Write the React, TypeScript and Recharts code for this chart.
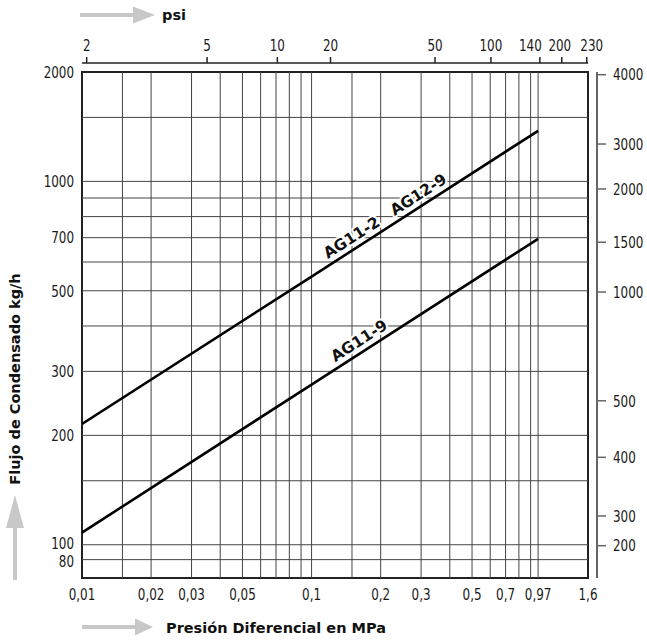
import { LineChart, Line, XAxis, YAxis, ReferenceLine, ReferenceArea, ReferenceDot } from 'recharts';

// caudal de condensado vs presión diferencial (escala log-log)
const pressure = [0.01, 0.1, 0.97];
const flowAG112 = [215, 547, 1378];
const flowAG119 = [108, 276, 695];

const mpaTicks = [0.01, 0.02, 0.03, 0.05, 0.1, 0.2, 0.3, 0.5, 0.7, 0.97, 1.6];
const mpaLabels = ['0,01', '0,02', '0,03', '0,05', '0,1', '0,2', '0,3', '0,5', '0,7', '0,97', '1,6'];
const mpaGrid = [0.015, 0.02, 0.03, 0.04, 0.05, 0.06, 0.07, 0.08, 0.09, 0.1, 0.15, 0.2, 0.3, 0.4, 0.5, 0.6, 0.7, 0.8, 0.9, 0.97];

const kgTicks = [2000, 1000, 700, 500, 300, 200, 100, 91];
const kgLabels = ['2000', '1000', '700', '500', '300', '200', '100', '80'];
const kgGrid = [1500, 1000, 900, 800, 700, 600, 500, 400, 300, 200, 150, 100, 91];

// psi scale as drawn on the sheet (positions in MPa)
const psiTicks = [0.01048, 0.03506, 0.07094, 0.1209, 0.3449, 0.6043, 0.987, 1.23, 1.58];
const psiLabels = ['2', '5', '10', '20', '50', '100', '140', '200', '230'];

// lb/h scale as drawn (positions in kg/h)
const lbTicks = [1966, 1267, 953, 680, 496, 249, 174, 120, 99.4];
const lbLabels = ['4000', '3000', '2000', '1500', '1000', '500', '400', '300', '200'];

const seriesTags = [
  { text: 'AG11-2', at: 0.1214, key: 'ag112' },
  { text: 'AG12-9', at: 0.2372, key: 'ag112' },
  { text: 'AG11-9', at: 0.1309, key: 'ag119' },
];

const data = pressure.map((p, i) => ({ p, ag112: flowAG112[i], ag119: flowAG119[i] }));

const xDomain = [0.01, 1.6];
const yDomain = [81, 2000];

const tickFont = "'DejaVu Sans Condensed', 'DejaVu Sans', sans-serif";
const titleFont = "'DejaVu Sans', sans-serif";
const gridColor = '#444';
const arrowColor = '#c8c8c8';

// label nudges so crowded labels don't collide (layout only)
const psiNudgeX = [0, 0, 0, 0, 0, 0, -9.5, -2, 5];
const kgNudgeY = [0, 0, 0, 0, 0, 0, -2, 2];

function onLine(values: number[], x: number) {
  for (let i = 0; i < pressure.length - 1; i++) {
    if (x <= pressure[i + 1]) {
      const t = (Math.log(x) - Math.log(pressure[i])) / (Math.log(pressure[i + 1]) - Math.log(pressure[i]));
      return Math.exp(Math.log(values[i]) + t * (Math.log(values[i + 1]) - Math.log(values[i])));
    }
  }
  return values[values.length - 1];
}

// narrow, tall digits like the original sheet
const makeTick =
  (labels: string[], side: 'bottom' | 'top' | 'left' | 'right', nudgeX?: number[], nudgeY?: number[]) =>
  (props: any) => {
    const { x, y, index } = props;
    const anchor = side === 'left' ? 'end' : side === 'right' ? 'start' : 'middle';
    const dy = side === 'bottom' ? '0.71em' : side === 'top' ? 0 : '0.36em';
    const nx = nudgeX ? nudgeX[index] || 0 : 0;
    const ny = nudgeY ? nudgeY[index] || 0 : 0;
    return (
      <g transform={`translate(${x + nx},${y + ny}) scale(0.83,1)`}>
        <text x={0} y={0} dy={dy} textAnchor={anchor} fontFamily={tickFont} fontSize={16} fill="#1a1a1a">
          {labels[index]}
        </text>
      </g>
    );
  };

const tagShape = (text: string) => (props: any) => {
  const { cx, cy } = props;
  return (
    <text
      x={cx}
      y={cy}
      dy={-6}
      transform={`rotate(-32.6 ${cx} ${cy})`}
      fontFamily={titleFont}
      fontWeight="bold"
      fontSize={15.5}
      fill="#111"
      stroke="#fff"
      strokeWidth={4}
      strokeLinejoin="round"
      paintOrder="stroke"
    >
      {text}
    </text>
  );
};

function Overlay() {
  return (
    <svg width={647} height={644} style={{ position: 'absolute', left: 0, top: 0, pointerEvents: 'none' }}>
      {/* psi */}
      <rect x={80} y={13} width={54} height={4} fill={arrowColor} />
      <polygon points="133,6.5 155,15 133,23.5" fill={arrowColor} />
      <text x={162} y={20} fontFamily={titleFont} fontWeight="bold" fontSize={14.5} fill="#111">psi</text>

      {/* eje vertical */}
      <rect x={13} y={527} width={4} height={53} fill={arrowColor} />
      <polygon points="6,528 15,495 24,528" fill={arrowColor} />
      <text
        x={20}
        y={379}
        transform="rotate(-90 20 379)"
        textAnchor="middle"
        fontFamily={titleFont}
        fontWeight="bold"
        fontSize={14.5}
        fill="#111"
      >
        Flujo de Condensado kg/h
      </text>

      {/* eje horizontal */}
      <rect x={82} y={625} width={54} height={4} fill={arrowColor} />
      <polygon points="135,618.5 153,627 135,635.5" fill={arrowColor} />
      <text x={166} y={633} fontFamily={titleFont} fontWeight="bold" fontSize={14.5} fill="#111">
        Presión Diferencial en MPa
      </text>
    </svg>
  );
}

export default function App() {
  return (
    <div style={{ position: 'absolute', left: 0, top: 0, width: 647, height: 644, background: '#fff' }}>
      <LineChart width={647} height={644} data={data} margin={{ top: 28, right: 0, bottom: 36, left: 12 }}>
        <XAxis
          dataKey="p"
          type="number"
          scale="log"
          domain={xDomain}
          allowDataOverflow
          ticks={mpaTicks}
          interval={0}
          height={30}
          axisLine={false}
          tickLine={false}
          tickSize={0}
          tickMargin={11}
          tick={makeTick(mpaLabels, 'bottom')}
        />
        <XAxis xAxisId="gapTop" dataKey="p" orientation="top" type="number" scale="log" domain={xDomain} allowDataOverflow height={9} tick={false} axisLine={false} tickLine={false} />
        <XAxis
          xAxisId="psi"
          dataKey="p"
          orientation="top"
          type="number"
          scale="log"
          domain={xDomain}
          allowDataOverflow
          ticks={psiTicks}
          interval={0}
          height={35}
          axisLine={{ stroke: '#222', strokeWidth: 1.5 }}
          tickLine={{ stroke: '#222', strokeWidth: 1.5 }}
          tickSize={6}
          tickMargin={6}
          tick={makeTick(psiLabels, 'top', psiNudgeX)}
        />
        <YAxis
          type="number"
          scale="log"
          domain={yDomain}
          allowDataOverflow
          ticks={kgTicks}
          interval={0}
          width={70}
          axisLine={false}
          tickLine={false}
          tickSize={0}
          tickMargin={8}
          tick={makeTick(kgLabels, 'left', undefined, kgNudgeY)}
        />
        <YAxis yAxisId="gapRight" orientation="right" type="number" scale="log" domain={yDomain} allowDataOverflow width={9} tick={false} axisLine={false} tickLine={false} />
        <YAxis
          yAxisId="lb"
          orientation="right"
          type="number"
          scale="log"
          domain={yDomain}
          allowDataOverflow
          ticks={lbTicks}
          interval={0}
          width={50}
          axisLine={{ stroke: '#666', strokeWidth: 2 }}
          tickLine={{ stroke: '#666', strokeWidth: 1.5 }}
          tickSize={9}
          tickMargin={7}
          tick={makeTick(lbLabels, 'right')}
        />

        {mpaGrid.map((v) => (
          <ReferenceLine key={`vx${v}`} x={v} stroke={gridColor} strokeWidth={1} />
        ))}
        {kgGrid.map((v) => (
          <ReferenceLine key={`hy${v}`} y={v} stroke={gridColor} strokeWidth={1} />
        ))}
        <ReferenceArea x1={xDomain[0]} x2={xDomain[1]} y1={yDomain[0]} y2={yDomain[1]} fill="none" fillOpacity={0} stroke="#222" strokeWidth={2} />

        <Line dataKey="ag112" stroke="#000" strokeWidth={2.6} dot={false} isAnimationActive={false} />
        <Line dataKey="ag119" stroke="#000" strokeWidth={2.6} dot={false} isAnimationActive={false} />

        {seriesTags.map((t) => (
          <ReferenceDot
            key={t.text}
            x={t.at}
            y={onLine(t.key === 'ag112' ? flowAG112 : flowAG119, t.at)}
            r={0}
            shape={tagShape(t.text)}
          />
        ))}
      </LineChart>
      <Overlay />
    </div>
  );
}
